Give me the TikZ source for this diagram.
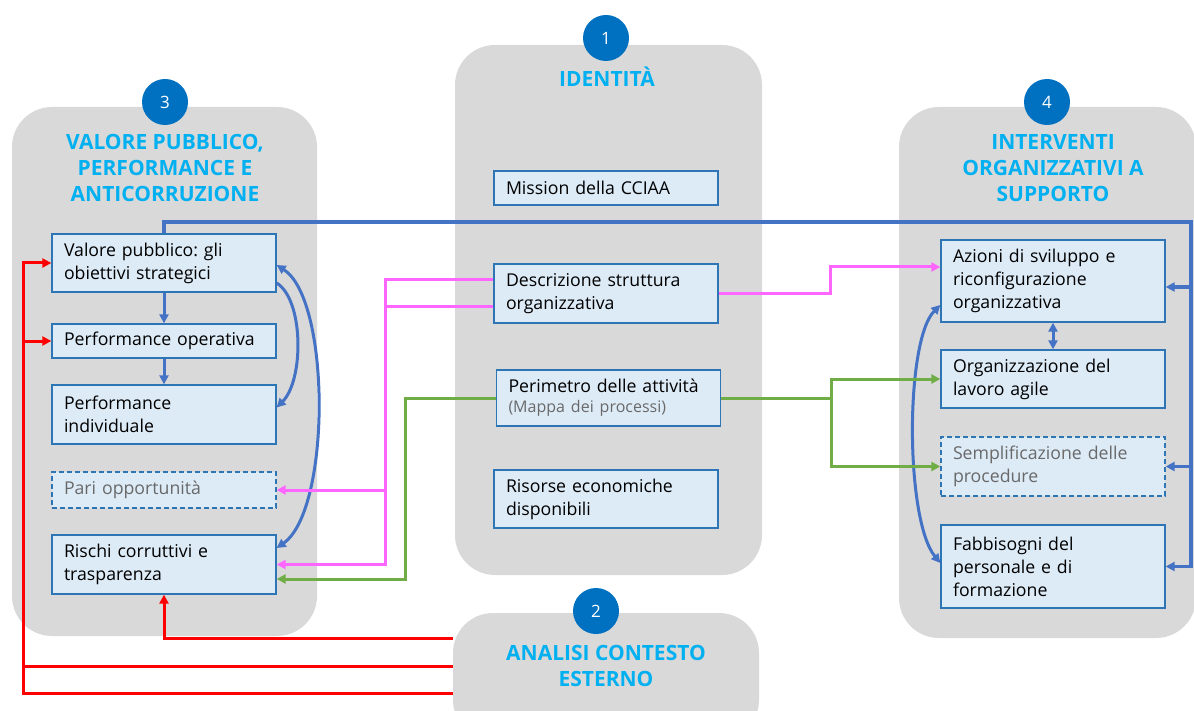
\documentclass[tikz,border=0pt]{standalone}
\usepackage{fontspec}
\setmainfont{Open Sans}
\frenchspacing
\usetikzlibrary{arrows.meta,calc}
\definecolor{panelgray}{RGB}{217,217,217}
\definecolor{boxfill}{RGB}{221,235,247}
\definecolor{boxline}{RGB}{46,117,182}
\definecolor{circblue}{RGB}{0,112,192}
\definecolor{titlecyan}{RGB}{0,176,240}
\definecolor{lineblue}{RGB}{68,114,196}
\definecolor{pinkline}{RGB}{255,102,255}
\definecolor{greenline}{RGB}{112,173,71}
\definecolor{redline}{RGB}{255,0,0}
\definecolor{txtgray}{RGB}{105,105,105}
\begin{document}
\begin{tikzpicture}[x=1pt,y=-1pt,
  >={Triangle[length=9pt,width=9pt]},
  panel/.style={fill=panelgray, rounded corners=40pt, inner sep=0pt},
  circ/.style={circle, fill=circblue, minimum size=46pt, inner sep=0pt, text=white, font=\fontsize{17}{17}\selectfont},
  ttl/.style={text=titlecyan, align=center, font=\bfseries\fontsize{21}{26}\selectfont, inner sep=0pt},
  bx/.style={rectangle, draw=boxline, fill=boxfill, line width=1.3pt, inner xsep=12pt, inner ysep=0pt,
     text width=200pt, minimum width=224pt, align=left, font=\fontsize{17.7}{23}\selectfont},
  dbx/.style={bx, dash pattern=on 5pt off 3pt, text=txtgray},
  bl/.style={draw=lineblue, line width=3.5pt},
  blc/.style={draw=lineblue, line width=3pt},
  pk/.style={draw=pinkline, line width=3pt},
  gr/.style={draw=greenline, line width=3pt},
  rd/.style={draw=redline, line width=3pt}]
\useasboundingbox (0,0) rectangle (1194,711);
\clip (0,0) rectangle (1194,711);

% panels
\node[panel, minimum width=305pt, minimum height=529pt] (p3) at (164.5,371.5) {};
\node[panel, minimum width=307pt, minimum height=530pt] (p1) at (608.5,310) {};
\node[panel, minimum width=306pt, minimum height=127pt] (p2) at (606,676.5) {};
\node[panel, minimum width=297pt, minimum height=531pt] (p4) at (1047.5,372.5) {};

% circles
\node[circ] (c1) at (606,38) {1};
\node[circ] (c2) at (596,611) {2};
\node[circ] (c3) at (165,102) {3};
\node[circ] (c4) at (1047,102) {4};

% titles
\node[ttl, anchor=base] (t1) at (607,87) {IDENTITÀ};
\node[ttl] (t3) at (165,168) {VALORE PUBBLICO,\\PERFORMANCE E\\ANTICORRUZIONE};
\node[ttl] (t4) at (1053,168) {INTERVENTI\\ORGANIZZATIVI A\\SUPPORTO};
\node[ttl] (t2) at (606,666) {ANALISI CONTESTO\\ESTERNO};

% left boxes
\node[bx, minimum height=58pt] (vp) at (164,263) {Valore pubblico: gli\\obiettivi strategici};
\node[bx, minimum height=34pt] (po) at (164,341) {Performance operativa};
\node[bx, minimum height=59pt] (pi) at (164,414.5) {Performance\\individuale};
\node[dbx, minimum height=36pt] (pari) at (164,490) {Pari opportunità};
\node[bx, minimum height=59pt] (rischi) at (164,564.5) {Rischi corruttivi e\\trasparenza};

% center boxes
\node[bx, minimum height=34pt] (mission) at (606,188) {Mission della CCIAA};
\node[bx, minimum height=59pt] (descr) at (606,293.5) {Descrizione struttura\\organizzativa};
\node[bx, minimum height=56pt] (perim) at (608.5,398) {Perimetro delle attività\\[-3pt]{\fontsize{16}{18}\selectfont\color{txtgray}(Mappa dei processi)}};
\node[bx, minimum height=58pt] (risorse) at (606,499) {Risorse economiche\\disponibili};

% right boxes
\node[bx, minimum height=82pt] (azioni) at (1053,281) {Azioni di sviluppo e\\riconfigurazione\\organizzativa};
\node[bx, minimum height=58pt] (org) at (1053,379) {Organizzazione del\\lavoro agile};
\node[dbx, minimum height=59pt] (sempl) at (1053,466.5) {Semplificazione delle\\procedure};
\node[bx, minimum height=83pt] (fabb) at (1053,566.5) {Fabbisogni del\\personale e di\\formazione};

% blue connectors
\coordinate (bTR) at (1191,222);
\draw[bl,->] (vp.north) |- (bTR) |- (fabb.east);
\draw[bl,->] (bTR |- 0,287) -- (azioni.east |- 0,287);
\draw[bl,->] (bTR |- 0,466.5) -- (sempl.east);
\draw[blc,->] (vp.south) -- (po.north);
\draw[blc,->] (po.south) -- (pi.north);
\draw[blc,->] ([yshift=-20pt]vp.east) .. controls (304,300) and (304,380) .. ([yshift=7pt]pi.east);
\draw[blc,<->] ([yshift=-2pt]vp.east) .. controls (331,300) and (331,510) .. ([yshift=16.5pt]rischi.east);
\draw[blc,<->] ([yshift=-24pt]azioni.west) .. controls (905,340) and (905,520) .. ([yshift=3.5pt]fabb.west);
\draw[blc,<->] (azioni.south) -- (org.north);

% pink connectors
\coordinate (pkL) at (385,280);
\draw[pk,->] ([yshift=13.5pt]descr.west) -- (pkL) |- (pari.east);
\draw[pk,->] ([yshift=-13.5pt]descr.west) -| (pkL) |- (rischi.east);
\coordinate (pkR) at (830,293.5);
\draw[pk,->] (descr.east) -- (pkR) |- ([yshift=14pt]azioni.west);

% green connectors
\coordinate (grL) at (405,398);
\draw[gr,->] (perim.west) -- (grL) |- ([yshift=-14.5pt]rischi.east);
\coordinate (grR) at (831,398);
\draw[gr,->] (perim.east) -- (grR) |- (org.west);
\draw[gr,->] (grR) |- (sempl.west);

% red connectors
\coordinate (rdV) at (23,693);
\draw[rd,->] (p2.west |- 0,638) -| (rischi.south);
\draw[rd] (p2.west |- 0,666) -- (rdV |- 0,666);
\draw[rd,->] (p2.west |- 0,693) -- (rdV) |- (vp.west);
\draw[rd,->] (rdV |- po.west) -- (po.west);
\end{tikzpicture}
\end{document}
